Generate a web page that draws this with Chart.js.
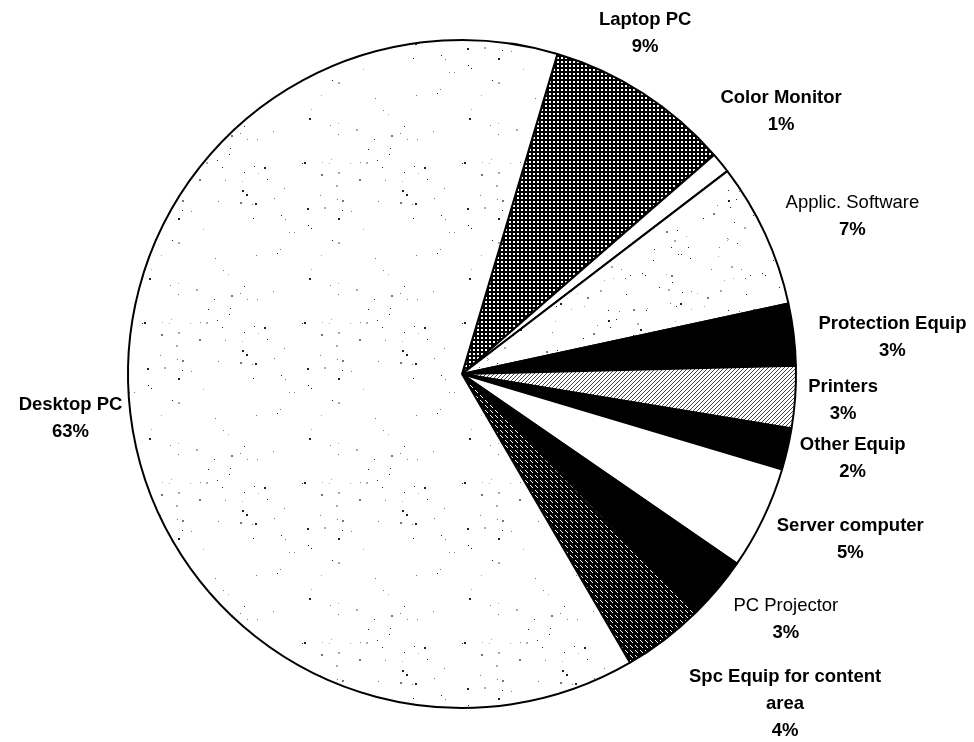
<!DOCTYPE html>
<html>
<head>
<meta charset="utf-8">
<title>Equipment share</title>
<script src="https://cdn.jsdelivr.net/npm/chart.js@4.4.1/dist/chart.umd.min.js"></script>
<style>
  html, body { margin: 0; padding: 0; background: #fff; }
  #wrap { width: 974px; height: 742px; }
</style>
</head>
<body>
<div id="wrap"><canvas id="pieChart" width="974" height="742"></canvas></div>
<script>
// data, clockwise from the top
const categories = ['Laptop PC', 'Color Monitor', 'Applic. Software', 'Protection Equip', 'Printers',
    'Other Equip', 'Server computer', 'PC Projector', 'Spc Equip for content area', 'Desktop PC'];
const labelLines = [['Laptop PC'], ['Color Monitor'], ['Applic. Software'], ['Protection Equip'], ['Printers'],
    ['Other Equip'], ['Server computer'], ['PC Projector'], ['Spc Equip for content', 'area'], ['Desktop PC']];
const shares = [9, 1, 7, 3, 3, 2, 5, 3, 4, 63];

// label nudges from the default anchor (px)
const labelNudge = [[-14, -35], [37, -33], [60, -5], [69, 7], [18, 1], [36, 3], [60, 8], [45, 11], [102, 41], [-30, 1]];
const labelBold = [true, true, false, true, true, true, true, false, true, true];

// fill patterns
function makeTile(w, h, draw) {
    const c = document.createElement('canvas');
    c.width = w; c.height = h;
    const g = c.getContext('2d');
    draw(g, w, h);
    return document.createElement('canvas').getContext('2d').createPattern(c, 'repeat');
}

function seeded(seed) {
    let s = seed;
    return () => { s = (s * 1103515245 + 12345) % 2147483648; return s / 2147483648; };
}

function speckle(size, count, seed) {
    return makeTile(size, size, (g, w, h) => {
        g.fillStyle = '#fff';
        g.fillRect(0, 0, w, h);
        const rnd = seeded(seed);
        for (let i = 0; i < count; i++) {
            const x = Math.floor(rnd() * w), y = Math.floor(rnd() * h);
            const r = rnd();
            g.fillStyle = r > 0.6 ? '#222' : (r > 0.3 ? '#777' : '#aaa');
            const d = rnd() > 0.75 ? 2 : 1;
            g.fillRect(x, y, d, d);
        }
    });
}

const dotsOnBlack = makeTile(4, 4, (g) => {
    g.fillStyle = '#000'; g.fillRect(0, 0, 4, 4);
    g.fillStyle = '#fff'; g.fillRect(1, 1, 2, 2);
});

const dashOnBlack = makeTile(5, 5, (g) => {
    g.fillStyle = '#000'; g.fillRect(0, 0, 5, 5);
    g.fillStyle = '#fff';
    g.fillRect(0, 0, 1, 1); g.fillRect(1, 1, 1, 1); g.fillRect(2, 2, 1, 1);
});

const hatch = makeTile(4, 4, (g) => {
    g.fillStyle = '#fff'; g.fillRect(0, 0, 4, 4);
    g.fillStyle = '#444';
    g.fillRect(3, 0, 1, 1); g.fillRect(2, 1, 1, 1); g.fillRect(1, 2, 1, 1); g.fillRect(0, 3, 1, 1);
});

const sliceFills = [dotsOnBlack, '#fff', speckle(120, 60, 7), '#000', hatch,
    '#000', '#fff', '#000', dashOnBlack, speckle(160, 70, 3)];

// draw labels outside the pie
const outerLabels = {
    id: 'outerLabels',
    afterDraw(chart) {
        const ctx = chart.ctx;
        const meta = chart.getDatasetMeta(0);
        const total = shares.reduce((a, b) => a + b, 0);
        ctx.save();
        ctx.fillStyle = '#000';
        ctx.textAlign = 'center';
        ctx.textBaseline = 'middle';
        meta.data.forEach((arc, i) => {
            const p = arc.getProps(['x', 'y', 'startAngle', 'endAngle', 'outerRadius'], true);
            const mid = (p.startAngle + p.endAngle) / 2;
            const dist = p.outerRadius + 30;
            const cx = p.x + Math.cos(mid) * dist + labelNudge[i][0];
            const cy = p.y + Math.sin(mid) * dist + labelNudge[i][1];
            const lines = labelLines[i].concat([Math.round(shares[i] / total * 100) + '%']);
            const lh = 27;
            const top = cy - (lines.length - 1) * lh / 2;
            lines.forEach((t, k) => {
                ctx.font = (labelBold[i] || k === lines.length - 1 ? 'bold ' : '') + '18.5px "Liberation Sans", Arial, sans-serif';
                ctx.fillText(t, cx, top + k * lh);
            });
        });
        ctx.restore();
    }
};

const chart = new Chart(document.getElementById('pieChart'), {
    type: 'pie',
    data: {
        labels: categories,
        datasets: [{
            data: shares,
            backgroundColor: sliceFills,
            borderColor: '#000',
            borderWidth: 2,
            borderAlign: 'center'
        }]
    },
    options: {
        responsive: false,
        animation: false,
        rotation: 16.6,
        layout: { padding: { left: 127, right: 177, top: 39, bottom: 33 } },
        plugins: {
            legend: { display: false },
            tooltip: { enabled: false }
        }
    },
    plugins: [outerLabels]
});
</script>
</body>
</html>
